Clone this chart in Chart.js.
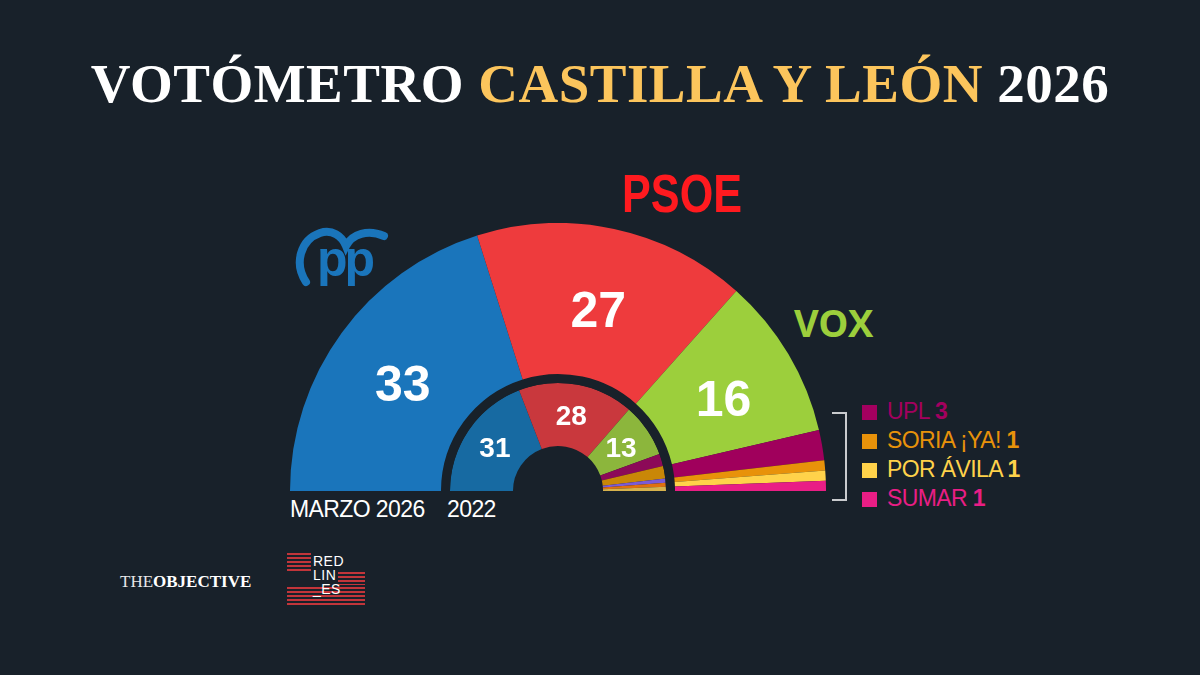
<!DOCTYPE html>
<html>
<head>
<meta charset="utf-8">
<script src="https://cdn.jsdelivr.net/npm/chart.js@4"></script>
<style>
  html, body { margin: 0; padding: 0; }
  body { width: 1200px; height: 675px; background: #18212a; overflow: hidden; position: relative; font-family: "Liberation Sans", Arial, sans-serif; }
  .abs { position: absolute; }
  #title { top: 54px; left: 0; width: 1200px; text-align: center; font-family: "Liberation Serif", serif; font-weight: bold; font-size: 55px; color: #fff; letter-spacing: 0.5px; line-height: 60px; }
  #title span { color: #fcc55c; }
  #chartBox { left: 290px; top: 223px; width: 536px; height: 268px; }
  #psoe { left: 622px; top: 163px; font-family: "Liberation Sans", sans-serif; font-weight: bold; font-size: 54px; color: #ff1a1f; line-height: 60px; transform: scaleX(0.8); transform-origin: left; }
  #vox { left: 794px; top: 300px; font-family: "Open Sans", sans-serif; font-weight: bold; font-size: 38px; color: #9ccf3c; line-height: 44px; letter-spacing: -0.5px; }
  #pp { left: 294px; top: 224px; }
  .year { top: 496px; color: #fff; font-size: 23px; letter-spacing: -0.6px; }
  .leg { left: 862px; font-size: 23px; line-height: 26px; letter-spacing: -0.6px; white-space: nowrap; }
  .leg i { display: inline-block; width: 15px; height: 15px; margin-right: 10px; vertical-align: -1px; }
  .leg b { font-weight: bold; }
  #bracket { left: 832px; top: 412px; width: 13px; height: 85px; border: 2px solid #c9cbce; border-left: none; }
  #theobj { left: 120px; top: 572px; font-family: "Liberation Serif", serif; font-weight: bold; font-size: 17px; color: #fff; letter-spacing: 0px; }
  #theobj span { font-weight: normal; color: #e8e8e8; }
  .stripes { background: repeating-linear-gradient(to bottom, #c2353a 0px, #c2353a 2px, transparent 2px, transparent 4px); }
  #rl { left: 287px; top: 553px; width: 78px; height: 56px; }
  #rltext { left: 313px; top: 554px; font-size: 14px; line-height: 14px; color: #fff; letter-spacing: 0.5px; }
</style>
</head>
<body>
<div id="title" class="abs">VOTÓMETRO <span>CASTILLA Y LEÓN</span> 2026</div>
<div id="psoe" class="abs">PSOE</div>
<div id="vox" class="abs">VOX</div>
<svg id="pp" class="abs" width="96" height="66" viewBox="0 0 96 66">
  <path d="M12 58 C 0 40, 6 16, 26 9 C 38 5, 48 12, 52 22 C 58 10, 74 5, 90 12" fill="none" stroke="#1a75bb" stroke-width="8" stroke-linecap="round"/>
  <text x="23" y="52" font-family="Liberation Sans, Arial, sans-serif" font-weight="bold" font-size="50" fill="#1a75bb" letter-spacing="-3">pp</text>
</svg>
<div class="abs" id="chartBox"><canvas id="hemi"></canvas></div>
<div class="abs year" style="left:290px">MARZO 2026</div>
<div class="abs year" style="left:447px">2022</div>
<div id="bracket" class="abs"></div>
<div id="legend"></div>
<div id="theobj" class="abs"><span>THE</span>OBJECTIVE</div>
<div class="abs" id="rl">
  <div class="abs stripes" style="left:0;top:0;width:24px;height:20px"></div>
  <div class="abs stripes" style="left:51px;top:19px;width:27px;height:13px"></div>
  <div class="abs stripes" style="left:0;top:34px;width:78px;height:20px"></div>
</div>
<div class="abs" id="rltext">RED<br>LIN<br>_ES</div>
<script>
// 2026 estimate (outer ring)
const parties2026 = ["PP", "PSOE", "VOX", "UPL", "SORIA ¡YA!", "POR ÁVILA", "SUMAR"];
const seats2026 = [33, 27, 16, 3, 1, 1, 1];
const colors2026 = ["#1a75bb", "#ee3b3d", "#9ccf3c", "#a0005c", "#e8920a", "#ffd24a", "#e91e85"];

// 2022 result (inner ring)
const parties2022 = ["PP", "PSOE", "VOX", "UPL", "SORIA ¡YA!", "PODEMOS", "CS", "POR ÁVILA"];
const seats2022 = [31, 28, 13, 3, 3, 1, 1, 1];
const colors2022 = ["#176aa2", "#c9383d", "#8cb63c", "#8c0a58", "#c98707", "#7b5bd6", "#e0700f", "#d6b24c"];

// small parties listed on the right
const legendParties = ["UPL", "SORIA ¡YA!", "POR ÁVILA", "SUMAR"];
const legendSeats = [3, 1, 1, 1];
const legendColors = ["#a3005f", "#e8920a", "#ffd24a", "#e91e85"];

const bg = '#18212a';

const legendEl = document.getElementById('legend');
legendParties.forEach(function(p, i) {
  const d = document.createElement('div');
  d.className = 'abs leg';
  d.style.top = (398 + i * 29) + 'px';
  d.style.color = legendColors[i];
  d.innerHTML = '<i style="background:' + legendColors[i] + '"></i>' + p + ' <b>' + legendSeats[i] + '</b>';
  legendEl.appendChild(d);
});

// seat numbers on the three big parties of each ring
const seatLabels = {
  id: 'seatLabels',
  afterDatasetsDraw: function(chart) {
    const ctx = chart.ctx;
    ctx.save();
    ctx.fillStyle = '#fff';
    ctx.textAlign = 'center';
    ctx.textBaseline = 'middle';
    [[0, 50, 10], [2, 28, 2]].forEach(function(cfg) {
      const meta = chart.getDatasetMeta(cfg[0]);
      const values = chart.data.datasets[cfg[0]].data;
      ctx.font = 'bold ' + cfg[1] + 'px "Liberation Sans", Arial, sans-serif';
      for (let i = 0; i < 3; i++) {
        const pt = meta.data[i].tooltipPosition();
        ctx.fillText(values[i], pt.x, pt.y + cfg[2]);
      }
    });
    ctx.restore();
  }
};

new Chart(document.getElementById('hemi').getContext('2d'), {
  type: 'doughnut',
  data: {
    labels: parties2026,
    datasets: [
      { data: seats2026, backgroundColor: colors2026, borderWidth: 0, weight: 151 },
      { data: [1], backgroundColor: [bg], borderWidth: 0, weight: 9 },
      { data: seats2022, backgroundColor: colors2022, borderWidth: 0, weight: 63 }
    ]
  },
  options: {
    responsive: true,
    maintainAspectRatio: false,
    animation: false,
    rotation: -90,
    circumference: 180,
    cutout: '16.8%',
    events: [],
    layout: { padding: 0 },
    plugins: {
      legend: { display: false },
      tooltip: { enabled: false }
    }
  },
  plugins: [seatLabels]
});
</script>
</body>
</html>
